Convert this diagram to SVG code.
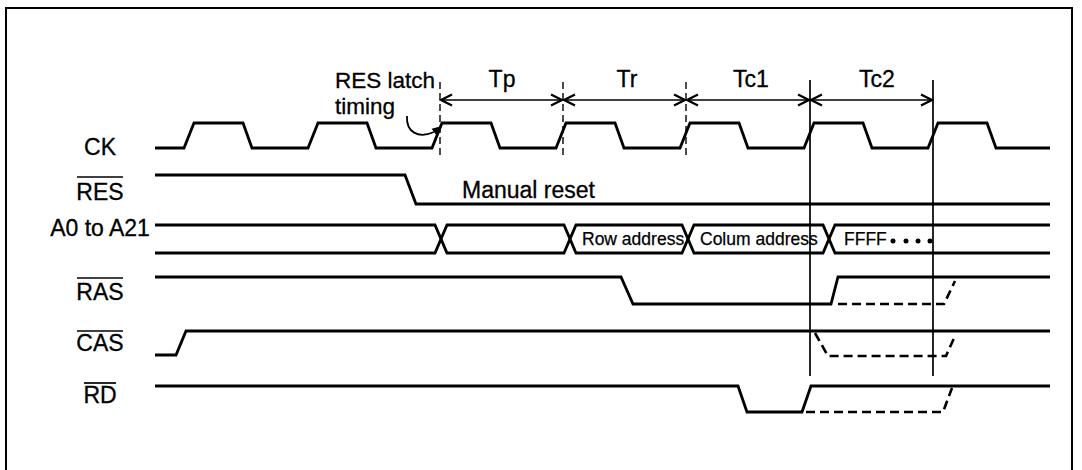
<svg xmlns="http://www.w3.org/2000/svg" width="1082" height="470" viewBox="0 0 1082 470">
  <defs>
    <marker id="arr" markerUnits="userSpaceOnUse" markerWidth="14" markerHeight="14" refX="12" refY="7" orient="auto-start-reverse">
      <path d="M1,1.5 L12,7 L1,12.5" fill="none" stroke="#000" stroke-width="2.3"/>
    </marker>
  </defs>
  <style>
    .wave { fill: none; stroke: #000; stroke-width: 2.8; stroke-linejoin: miter; }
    .dash { fill: none; stroke: #000; stroke-width: 2.6; stroke-dasharray: 9 5; }
    .vdash { stroke: #000; stroke-width: 1.4; stroke-dasharray: 7 4; }
    .vsolid { stroke: #000; stroke-width: 1.7; }
    .dim { stroke: #000; stroke-width: 1.7; marker-start: url(#arr); marker-end: url(#arr); }
    .lbl { font-family: "Liberation Sans", Arial, sans-serif; font-size: 23px; fill: #000; stroke: #000; stroke-width: 0.3; }
    .note { font-family: "Liberation Sans", Arial, sans-serif; font-size: 22.5px; fill: #000; stroke: #000; stroke-width: 0.3; }
    .mid { text-anchor: middle; }
    .small { font-family: "Liberation Sans", Arial, sans-serif; font-size: 17.5px; fill: #000; stroke: #000; stroke-width: 0.25; }
    .bar { stroke: #000; stroke-width: 1.7; }
    .frame { fill: none; stroke: #000; stroke-width: 2; }
  </style>
  <rect width="1082" height="470" fill="#fff"/>
  <path class="frame" d="M6,470 L6,8 L1072,8 L1072,470"/>

  <g id="timing-markers">
    <line class="vdash" x1="440" y1="82" x2="440" y2="158"/>
    <line class="vdash" x1="563" y1="82" x2="563" y2="158"/>
    <line class="vdash" x1="686" y1="82" x2="686" y2="158"/>
    <line class="vsolid" x1="810" y1="80" x2="810" y2="376"/>
    <line class="vsolid" x1="933" y1="80" x2="933" y2="376"/>
  </g>

  <g id="connectors">
    <line class="dim" x1="441" y1="100" x2="562" y2="100"/>
    <line class="dim" x1="564" y1="100" x2="685" y2="100"/>
    <line class="dim" x1="687" y1="100" x2="809" y2="100"/>
    <line class="dim" x1="811" y1="100" x2="932" y2="100"/>
    <path d="M407,116 C406,132 418,139 434,132" fill="none" stroke="#000" stroke-width="1.8"/>
    <polygon points="442,126 436.4,135.2 431.6,128.8" fill="#000"/>
  </g>

  <g id="period-labels">
    <text class="lbl mid" x="502" y="87">Tp</text>
    <text class="lbl mid" x="627" y="87">Tr</text>
    <text class="lbl mid" x="751" y="87">Tc1</text>
    <text class="lbl mid" x="877" y="87">Tc2</text>
    <text class="note" x="335" y="88">RES latch<tspan x="335" y="114">timing</tspan></text>
  </g>

  <g id="sig-ck">
    <text class="lbl mid" x="100" y="155">CK</text>
    <path class="wave" d="M155,148 L184,148 L194,123 L243,123 L252,148 L308,148 L318,123 L367,123 L376,148 L432,148 L442,123 L491,123 L500,148 L556,148 L566,123 L615,123 L624,148 L680,148 L690,123 L739,123 L748,148 L804,148 L814,123 L863,123 L872,148 L928,148 L938,123 L987,123 L996,148 L1050,148"/>
  </g>

  <g id="sig-res">
    <text class="lbl mid" x="100" y="200">RES</text>
    <line class="bar" x1="77" y1="177" x2="123" y2="177"/>
    <path class="wave" d="M155,175 L405,175 L416,204 L1050,204"/>
    <text class="lbl" x="462" y="198">Manual reset</text>
  </g>

  <g id="sig-addr">
    <text class="lbl mid" x="100" y="236">A0 to A21</text>
    <path class="wave" d="M155,225 L435,225 L447,253 L564,253 L576,225 L682,225 L694,253 L823,253 L835,225 L1050,225"/>
    <path class="wave" d="M155,253 L435,253 L447,225 L564,225 L576,253 L682,253 L694,225 L823,225 L835,253 L1050,253"/>
    <text class="small" x="582" y="245">Row address</text>
    <text class="small" x="700" y="245">Colum address</text>
    <text class="small" x="844" y="245">FFFF</text>
    <circle cx="893" cy="241" r="2.5"/>
    <circle cx="906" cy="241" r="2.5"/>
    <circle cx="918" cy="241" r="2.5"/>
    <circle cx="930" cy="241" r="2.5"/>
  </g>

  <g id="sig-ras">
    <text class="lbl mid" x="100" y="300">RAS</text>
    <line class="bar" x1="77" y1="278" x2="123" y2="278"/>
    <path class="wave" d="M155,277 L621,277 L633,304 L831,304 L838,277 L1050,277"/>
    <path class="dash" d="M838,304 L944,304 L955,281"/>
  </g>

  <g id="sig-cas">
    <text class="lbl mid" x="100" y="351">CAS</text>
    <line class="bar" x1="77" y1="331" x2="123" y2="331"/>
    <path class="wave" d="M155,355 L176,355 L186,331 L1050,331"/>
    <path class="dash" d="M815,333 L828,356 L946,356 L955,336"/>
  </g>

  <g id="sig-rd">
    <text class="lbl mid" x="100" y="403">RD</text>
    <line class="bar" x1="84" y1="383" x2="116" y2="383"/>
    <path class="wave" d="M155,386 L738,386 L747,412 L802,412 L811,386 L1050,386"/>
    <path class="dash" d="M806,412 L943,412 L952,388"/>
  </g>
</svg>
